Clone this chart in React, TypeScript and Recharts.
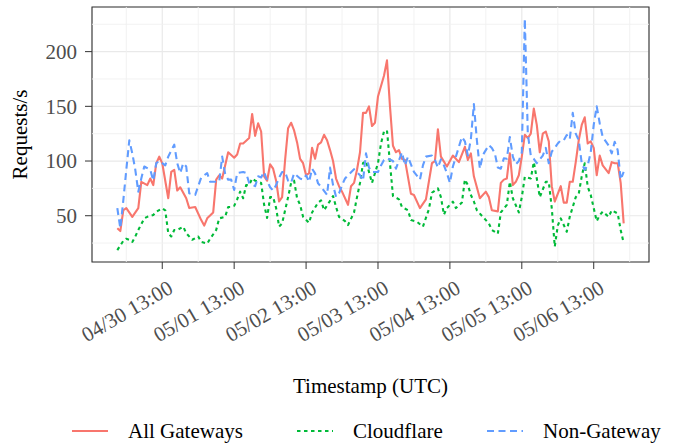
import React from 'react'
import { LineChart, Line, XAxis, YAxis, CartesianGrid, ReferenceLine, ReferenceArea, Legend, Label } from 'recharts'

// hours since 04/29 22:00 UTC, requests/s
const allGateways: [number, number][] = [
  [0, 38.5], [1, 36], [2, 55], [3, 57], [5, 49], [7, 57], [8, 81], [10, 78], [11, 84], [12, 78], [13, 98], [14, 104],
  [15, 98], [17, 66], [18, 90], [19, 92], [20, 73], [21, 76], [23, 66], [24, 57], [26, 58], [28, 46], [29, 41], [30, 47.6],
  [32, 53], [33, 83], [34, 87], [35, 84], [37, 108], [39, 103], [40, 106], [41, 116], [42, 116], [44, 121], [45, 143],
  [46, 123], [47, 134.5], [48, 127], [49, 86], [50, 82], [51, 97], [52, 93], [53, 82], [54, 63], [55, 67], [56, 101],
  [57, 130], [58, 135], [59, 128], [60, 117], [61, 102], [62, 98], [63, 87], [64, 89], [65, 112], [66, 102], [67, 115],
  [68, 117], [69, 124], [70, 119], [71, 110], [72, 100], [73, 84], [74, 77], [75, 72], [77, 60], [78, 77], [79, 80],
  [80, 92], [81, 108], [82, 144], [83, 144], [84, 150], [85, 132], [86, 135], [87, 159], [89, 178], [90, 192], [91, 150],
  [92, 114], [93, 108], [94, 110], [95, 102], [96, 101], [98, 70], [99, 69], [101, 57], [103, 65], [105, 98], [106, 100],
  [107, 129], [108, 104], [110, 95], [112, 105], [114, 99], [116, 113], [117, 101], [118, 107], [119, 86], [121, 66],
  [123, 72], [124, 67], [125, 55], [127, 54], [128, 80], [129, 83], [130, 84], [131, 107], [132, 78], [133, 81], [134, 87],
  [135, 104], [136, 124], [137, 121], [138, 125], [139, 148], [140, 133], [141, 108], [142, 125], [143, 127], [144, 118],
  [145, 77], [146, 63], [147, 70], [148, 77], [149, 62], [150, 62], [151, 81], [152, 81], [153, 99], [154, 119], [155, 133],
  [156, 140], [157, 116], [158, 118], [159, 112], [160, 87], [161, 105], [162, 96], [164, 89], [165, 99], [166, 98],
  [167, 98], [168, 80], [169, 43],
]

const cloudflare: [number, number][] = [
  [0, 18.6], [2, 27], [3, 29], [4, 28], [5, 26], [6, 31], [7, 37], [9, 47.6], [10, 49], [12, 50.6], [13, 53.7], [15, 56.8],
  [16, 55], [17, 34], [18, 31], [19, 37], [20, 37], [22, 40], [23, 34], [25, 28], [27, 31], [28, 26], [30, 24.5], [31, 29],
  [33, 37], [34, 47.6], [36, 49], [37, 58], [38, 58], [39, 59], [40, 65], [41, 72], [42, 66], [43, 78], [44, 78], [45, 84],
  [46, 82], [47, 81], [48, 80], [49, 60], [50, 48], [51, 67], [52, 67], [53, 57], [54, 40], [55, 43], [57, 67], [58, 80],
  [59, 82], [60, 66], [61, 60], [62, 49], [64, 43.5], [65, 53], [67, 62], [68, 64], [69, 55], [71, 63.6], [72, 68], [73, 58],
  [74, 49], [76, 45], [77, 41.5], [79, 53], [80, 67], [81, 80], [82, 98], [83, 100], [85, 80], [87, 98], [88, 116], [89, 127],
  [90, 128], [91, 98], [92, 68], [94, 65], [95, 58], [97, 55], [98, 46], [100, 44.5], [102, 40], [104, 56], [105, 71],
  [107, 75], [108, 67], [109, 51], [110, 57], [112, 62.8], [113, 57], [115, 62], [116, 83], [117, 78], [118, 69], [119, 63],
  [120, 55], [122, 49], [123, 46], [124, 43], [125, 37], [127, 33.5], [128, 53], [130, 60], [131, 81], [132, 66], [134, 53],
  [135, 67], [136, 85.6], [138, 84], [139, 99], [140, 84], [141, 67], [143, 81], [144, 81], [145, 57], [146, 21.7], [147, 41],
  [148, 47.6], [150, 35.4], [151, 49], [153, 67], [154, 70], [155, 86], [156, 98], [157, 76.5], [158, 69], [160, 45],
  [161, 50.5], [162, 53.7], [164, 49], [165, 55], [167, 52], [168, 37], [169, 25],
]

const nonGateway: [number, number][] = [
  [0, 57], [1, 38.5], [2, 64], [3, 92], [4, 119], [5, 107], [6, 92], [7, 72], [8, 84], [9, 95], [11, 92], [12, 82], [13, 98],
  [14, 100], [16, 96], [17, 104], [19, 115], [20, 98], [21, 89], [22, 98], [23, 95], [24, 70.5], [26, 69], [28, 85], [30, 89],
  [31, 81], [33, 81], [34, 81], [35, 104], [36, 88], [37, 83], [38, 83], [39, 73.5], [40, 89], [42, 90], [43, 89], [44, 80],
  [46, 77], [47, 86], [48, 85], [49, 90], [50, 82], [51, 76], [52, 73], [53, 78], [54, 85], [55, 90], [56, 90], [57, 82],
  [58, 80], [59, 88.7], [61, 84], [62, 83], [63, 87], [64, 81], [65, 93], [66, 88.7], [67, 79.6], [68, 76.5], [70, 69],
  [71, 94], [72, 78], [73, 67.4], [74, 70.5], [75, 78], [76, 84], [77, 87], [79, 92.5], [81, 87], [82, 82], [83, 107],
  [84, 94], [85, 90], [87, 90], [88, 96], [89, 101], [90, 102.5], [92, 100], [93, 93], [95, 108], [96, 96], [97, 104],
  [99, 90], [101, 83], [102, 96], [103, 104], [105, 105], [106, 101], [107, 94], [108, 101.5], [109, 96], [110, 89],
  [111, 80], [112, 95], [114, 113], [115, 122], [116, 118], [117, 105], [118, 120], [119, 152], [120, 119], [121, 93],
  [122, 105.5], [124, 114.6], [125, 112], [126, 107], [127, 94], [128, 93], [129, 102.5], [130, 102], [131, 122], [132, 104],
  [133, 97], [134, 100], [135, 108], [136, 230], [137, 125], [138, 105], [139, 102], [140, 98], [142, 105], [143, 112],
  [144, 98], [145, 108.5], [146, 112], [147, 116], [148, 119], [149, 119], [150, 123.8], [151, 120], [152, 144], [153, 125],
  [154, 119], [155, 98], [156, 92], [157, 96], [158, 108], [159, 133], [160, 150], [161, 134.5], [162, 122], [164, 114],
  [165, 107], [166, 117.6], [167, 110], [168, 83], [169, 90],
]

const xTicks = [15, 39, 63, 87, 111, 135, 159]
const xTickLabels = ['04/30 13:00', '05/01 13:00', '05/02 13:00', '05/03 13:00', '05/04 13:00', '05/05 13:00', '05/06 13:00']
const xMinor = [3, 27, 51, 75, 99, 123, 147, 171]
const yTicks = [50, 100, 150, 200]
const yMinor = [25, 75, 125, 175, 225]

const X_DOMAIN: [number, number] = [-8.45, 177.45]
const Y_DOMAIN: [number, number] = [7.7, 240.8]

const FONT = '"Liberation Serif", "Times New Roman", Times, serif'

const series = [
  { key: 'all', name: 'All Gateways', color: '#F8766D', dash: undefined as string | undefined, data: allGateways, legendX: 72 },
  { key: 'cf', name: 'Cloudflare', color: '#00BA38', dash: '3.5 3.5', data: cloudflare, legendX: 297 },
  { key: 'ng', name: 'Non-Gateway', color: '#619CFF', dash: '7 4.5', data: nonGateway, legendX: 487 },
]

const toRows = (pts: [number, number][]) => pts.map(([h, v]) => ({ h, v }))

function XTick(props: any) {
  const { x, y, payload } = props
  const i = xTicks.indexOf(payload.value)
  return (
    <g transform={`translate(${x + 12},${y + 21})`}>
      <text textAnchor="end" transform="rotate(-30)" fontSize={21} fill="#4d4d4d" fontFamily={FONT}>
        {xTickLabels[i] ?? ''}
      </text>
    </g>
  )
}

function LegendBox() {
  return (
    <div style={{ position: 'relative', width: 683, height: 40, fontFamily: FONT }}>
      {series.map(s => (
        <div key={s.key} style={{ position: 'absolute', left: s.legendX, top: 8, height: 30, display: 'flex', alignItems: 'center' }}>
          <svg width={36} height={10} style={{ display: 'block' }}>
            <line x1={0} y1={5} x2={36} y2={5} stroke={s.color} strokeWidth={2.2} strokeDasharray={s.dash} />
          </svg>
          <span style={{ marginLeft: 20, fontSize: 21, color: '#000', lineHeight: '30px' }}>{s.name}</span>
        </div>
      ))}
    </div>
  )
}

export default function App() {
  return (
    <div style={{ position: 'absolute', left: 0, top: 0, width: 683, height: 448, background: '#fff' }}>
      <LineChart width={683} height={448} margin={{ top: 7, right: 34, left: 0, bottom: 0 }}>
        <CartesianGrid stroke="#e9e9e9" strokeWidth={1.2} />
        {yMinor.map(v => (
          <ReferenceLine key={`ym${v}`} y={v} stroke="#f0f0f0" strokeWidth={0.9} />
        ))}
        {xMinor.map(v => (
          <ReferenceLine key={`xm${v}`} x={v} stroke="#f0f0f0" strokeWidth={0.9} />
        ))}
        <XAxis
          type="number"
          dataKey="h"
          domain={X_DOMAIN}
          ticks={xTicks}
          allowDataOverflow
          height={146}
          axisLine={false}
          tickSize={7}
          tickMargin={2}
          tickLine={{ stroke: '#333333' }}
          tick={<XTick />}
          interval={0}
        >
          <Label
            content={(p: any) => {
              const vb = p.viewBox || { x: 92, y: 262, width: 557 }
              return (
                <text x={vb.x + vb.width / 2} y={vb.y + 131} textAnchor="middle" fontSize={21} fontFamily={FONT} fill="#000">
                  Timestamp (UTC)
                </text>
              )
            }}
          />
        </XAxis>
        <YAxis
          type="number"
          domain={Y_DOMAIN}
          ticks={yTicks}
          allowDataOverflow
          width={92}
          axisLine={false}
          tickSize={7}
          tickMargin={8}
          tickLine={{ stroke: '#333333' }}
          tick={{ fill: '#4d4d4d', fontSize: 21, fontFamily: FONT }}
        >
          <Label
            content={(p: any) => {
              const vb = p.viewBox || { x: 0, y: 7, height: 255 }
              const cy = vb.y + vb.height / 2
              return (
                <text x={27} y={cy} transform={`rotate(-90, 27, ${cy})`} textAnchor="middle" fontSize={21} fontFamily={FONT} fill="#000">
                  Requests/s
                </text>
              )
            }}
          />
        </YAxis>
        {series.map(s => (
          <Line
            key={s.key}
            data={toRows(s.data)}
            dataKey="v"
            name={s.name}
            type="linear"
            stroke={s.color}
            strokeWidth={2.1}
            strokeDasharray={s.dash}
            strokeLinejoin="round"
            dot={false}
            activeDot={false}
            isAnimationActive={false}
          />
        ))}
        <ReferenceArea x1={X_DOMAIN[0]} x2={X_DOMAIN[1]} y1={Y_DOMAIN[0]} y2={Y_DOMAIN[1]} fill="none" fillOpacity={0} stroke="#333333" strokeWidth={1.1} />
        <Legend verticalAlign="bottom" height={40} wrapperStyle={{ left: 0, width: 683 }} content={() => <LegendBox />} />
      </LineChart>
    </div>
  )
}
